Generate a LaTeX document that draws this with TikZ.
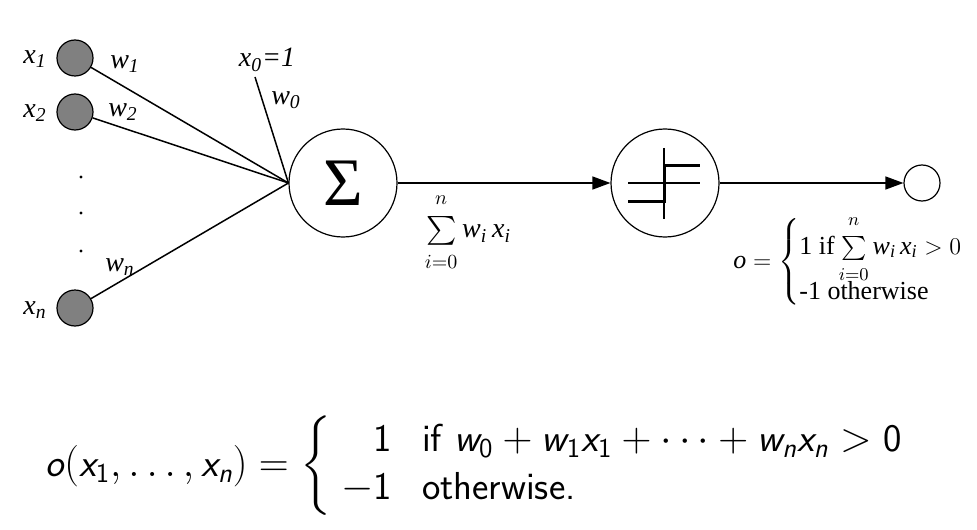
\documentclass[tikz,border=0pt]{standalone}
\usepackage{amsmath}
\usepackage{fontspec}
\setmainfont{Liberation Serif}
\usetikzlibrary{arrows.meta}

\tikzstyle{input} = [circle, draw, fill=gray, minimum size=18pt, inner sep=0pt, line width=0.6pt]
\tikzstyle{unit} = [circle, draw, fill=white, minimum size=54pt, inner sep=0pt, line width=0.6pt]
\tikzstyle{output} = [circle, draw, minimum size=18pt, inner sep=0pt, line width=0.6pt]
\tikzstyle{lab} = [inner sep=0pt, font=\fontsize{14}{16}\selectfont\itshape]
\tikzstyle{flow} = [-{Triangle[length=9pt,width=6.5pt]}]

\newcommand{\sv}[1]{\text{\sffamily\itshape #1}}
\newcommand{\sn}[1]{\text{\sffamily #1}}
\newcommand{\netsum}{\sum\limits_{\raisebox{-3pt}{$\scriptstyle i=0$}}^{\raisebox{3pt}{$\scriptstyle n$}} \mathit{w}_{\mathit{i}}\, \mathit{x}_{\mathit{i}}}

\begin{document}
\begin{tikzpicture}[x=0.5pt, y=-0.5pt, line width=0.75pt, font=\fontsize{12}{14}\selectfont]
  \useasboundingbox (0,0) rectangle (977,529);

  % inputs
  \node[input] (in1) at (75,58) {};
  \node[input] (in2) at (75,112) {};
  \node[input] (inn) at (75,308) {};
  \node[lab] (lx1) at (35,59) {x\textsubscript{1}};
  \node[lab] (lx2) at (35,113) {x\textsubscript{2}};
  \node[lab] (lxn) at (35,310) {x\textsubscript{n}};
  \foreach \y in {177,213,251}
    \fill (81,\y) circle (1.6);

  % units
  \node[unit] (sum) at (343,183) {\fontsize{34}{34}\selectfont Σ};
  \node[unit] (step) at (665,183) {};
  \node[output] (out) at (922,183) {};

  % weights
  \coordinate (bias) at (255,77);
  \draw (in1) -- (sum.west);
  \draw (in2) -- (sum.west);
  \draw (inn) -- (sum.west);
  \draw (bias) -- (sum.west);
  \node[lab] (lw1) at (125,64) {w\textsubscript{1}};
  \node[lab] (lw2) at (123,112) {w\textsubscript{2}};
  \node[lab] (lwn) at (120,267) {w\textsubscript{n}};
  \node[lab] (lw0) at (286,100) {w\textsubscript{0}};
  \node[lab] (lx0) at (267,60) {x\textsubscript{0}=1};

  % step function
  \begin{scope}[shift={(step.center)}]
    \draw[line width=0.6pt] (-37,0) -- (35,0);
    \draw[line width=0.6pt] (-1,-35) -- (-1,36);
    \draw[line width=1.5pt] (-37,18) -- (-1,18) -- (-1,-17) -- (35,-17);
  \end{scope}

  \draw[flow] (sum) -- (step);
  \draw[flow] (step) -- (out);

  \node[font=\fontsize{14}{16}\selectfont] (net) at (468,232) {$\netsum$};
  \node[anchor=west, font=\fontsize{13}{15}\selectfont] (rule) at (726,262) {$\mathit{o} = \left\{\begin{array}{@{}l@{}}
      \text{1 if} \netsum > 0\\[-2pt]
      \text{-1 otherwise}
    \end{array}\right.$};

  % formula
  \node (formula) at (480,466) {\fontsize{19.5}{24}\selectfont
    $\sv{o}(\sv{x}_{\sn{1}},\ldots,\sv{x}_{\sv{n}}) = \left\{\begin{array}{r@{\hspace{15pt}}l}
      \sn{1} & \sn{if } \sv{w}_{\sn{0}} + \sv{w}_{\sn{1}}\sv{x}_{\sn{1}} + \cdots + \sv{w}_{\sv{n}}\sv{x}_{\sv{n}} > \sn{0}\\
      -\sn{1} & \sn{otherwise.}
    \end{array}\right.$};
\end{tikzpicture}
\end{document}
